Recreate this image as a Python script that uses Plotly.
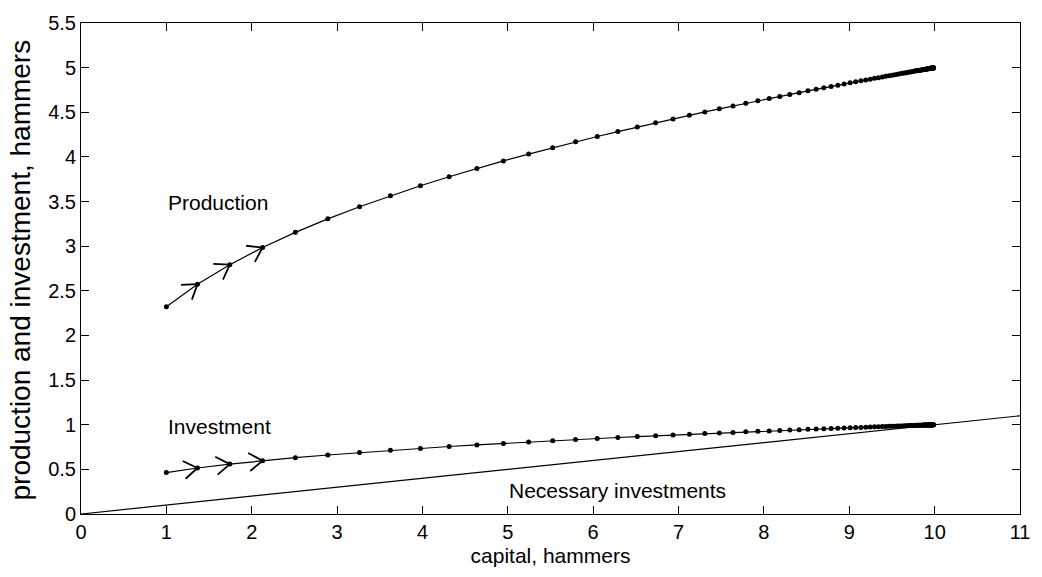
import math
import plotly.graph_objects as go

# capital stock per period (hammers)
capital = [
    1.000, 1.364, 1.743, 2.127, 2.511, 2.891, 3.263, 3.625, 3.976, 4.313,
    4.638, 4.948, 5.244, 5.526, 5.794, 6.048, 6.289, 6.517, 6.732, 6.936,
    7.127, 7.308, 7.478, 7.638, 7.788, 7.929, 8.062, 8.186, 8.303, 8.413,
    8.516, 8.612, 8.702, 8.787, 8.866, 8.940, 9.010, 9.075, 9.136, 9.193,
    9.246, 9.296, 9.342, 9.386, 9.426, 9.464, 9.500, 9.533, 9.564, 9.593,
    9.620, 9.645, 9.669, 9.691, 9.711, 9.730, 9.748, 9.765, 9.781, 9.795,
    9.809, 9.822, 9.834, 9.845, 9.855, 9.865, 9.874, 9.882, 9.890, 9.897,
    9.904, 9.911, 9.917, 9.922, 9.927, 9.932, 9.937, 9.941, 9.945, 9.949,
    9.952, 9.955, 9.958, 9.961, 9.964, 9.966, 9.968, 9.970, 9.972, 9.974,
    9.976, 9.978, 9.979, 9.980, 9.982, 9.983, 9.984, 9.985, 9.986, 9.987,
]

production = [
    2.321, 2.574, 2.793, 2.985, 3.155, 3.306, 3.442, 3.565, 3.677, 3.778,
    3.870, 3.955, 4.032, 4.103, 4.169, 4.229, 4.284, 4.335, 4.382, 4.426,
    4.467, 4.504, 4.539, 4.571, 4.600, 4.628, 4.654, 4.678, 4.700, 4.720,
    4.740, 4.757, 4.774, 4.789, 4.804, 4.817, 4.830, 4.841, 4.852, 4.862,
    4.871, 4.880, 4.888, 4.896, 4.903, 4.909, 4.916, 4.921, 4.927, 4.931,
    4.936, 4.940, 4.944, 4.948, 4.952, 4.955, 4.958, 4.961, 4.964, 4.966,
    4.968, 4.970, 4.972, 4.974, 4.976, 4.978, 4.979, 4.980, 4.982, 4.983,
    4.984, 4.985, 4.986, 4.987, 4.988, 4.989, 4.990, 4.991, 4.991, 4.992,
    4.992, 4.993, 4.993, 4.994, 4.994, 4.995, 4.995, 4.995, 4.996, 4.996,
    4.996, 4.996, 4.997, 4.997, 4.997, 4.997, 4.997, 4.998, 4.998, 4.998,
]

investment = [
    0.464, 0.515, 0.559, 0.597, 0.631, 0.661, 0.688, 0.713, 0.735, 0.756,
    0.774, 0.791, 0.806, 0.821, 0.834, 0.846, 0.857, 0.867, 0.876, 0.885,
    0.893, 0.901, 0.908, 0.914, 0.920, 0.926, 0.931, 0.936, 0.940, 0.944,
    0.948, 0.951, 0.955, 0.958, 0.961, 0.963, 0.966, 0.968, 0.970, 0.972,
    0.974, 0.976, 0.978, 0.979, 0.981, 0.982, 0.983, 0.984, 0.985, 0.986,
    0.987, 0.988, 0.989, 0.990, 0.990, 0.991, 0.992, 0.992, 0.993, 0.993,
    0.994, 0.994, 0.994, 0.995, 0.995, 0.996, 0.996, 0.996, 0.996, 0.997,
    0.997, 0.997, 0.997, 0.997, 0.998, 0.998, 0.998, 0.998, 0.998, 0.998,
    0.998, 0.999, 0.999, 0.999, 0.999, 0.999, 0.999, 0.999, 0.999, 0.999,
    0.999, 0.999, 0.999, 0.999, 0.999, 0.999, 0.999, 0.999, 0.999, 0.999,
]

# necessary investments line (depreciation)
necessary_x = [0, 11]
necessary_y = [0, 1.1]

n_arrows = 3

x_ticks = list(range(0, 12))
y_ticks = [0, 0.5, 1, 1.5, 2, 2.5, 3, 3.5, 4, 4.5, 5, 5.5]
y_tick_text = ["0", "0.5", "1", "1.5", "2", "2.5", "3", "3.5", "4", "4.5", "5", "5.5"]

FONT = "Arial, Liberation Sans, Helvetica, sans-serif"

W, H = 1042, 577
ML, MR, MT, MB = 81, 13, 14, 63
X_RANGE = [0, 11]
Y_RANGE = [0, 5.5]
ARM_LEN = 18
ARM_ANGLE = math.radians(34)

sx = (W - ML - MR) / (X_RANGE[1] - X_RANGE[0])
sy = (H - MT - MB) / (Y_RANGE[1] - Y_RANGE[0])

fig = go.Figure()

fig.add_trace(go.Scatter(x=necessary_x, y=necessary_y, mode="lines",
                         line=dict(color="black", width=1.2), showlegend=False,
                         hoverinfo="skip"))
fig.add_trace(go.Scatter(x=capital, y=production, mode="lines+markers",
                         line=dict(color="black", width=1.2),
                         marker=dict(color="black", size=5), showlegend=False))
fig.add_trace(go.Scatter(x=capital, y=investment, mode="lines+markers",
                         line=dict(color="black", width=1.2),
                         marker=dict(color="black", size=5), showlegend=False))

annotations = []
for series in (production, investment):
    for i in range(n_arrows):
        # direction from arrow tip back toward previous point, in screen pixels
        dx = (capital[i] - capital[i + 1]) * sx
        dy = -(series[i] - series[i + 1]) * sy
        ang = math.atan2(dy, dx)
        for sgn in (-1, 1):
            a = ang + sgn * ARM_ANGLE
            annotations.append(dict(
                x=capital[i + 1], y=series[i + 1], xref="x", yref="y",
                ax=ARM_LEN * math.cos(a), ay=ARM_LEN * math.sin(a),
                text="", showarrow=True, arrowhead=0, arrowwidth=1.8,
                arrowcolor="black", standoff=0,
            ))

annotations += [
    dict(x=0.99, y=3.49, xref="x", yref="y", text="Production", showarrow=False,
         xanchor="left", yanchor="middle", font=dict(size=21, color="black", family=FONT)),
    dict(x=0.99, y=0.98, xref="x", yref="y", text="Investment", showarrow=False,
         xanchor="left", yanchor="middle", font=dict(size=21, color="black", family=FONT)),
    dict(x=6.28, y=0.264, xref="x", yref="y", text="Necessary investments", showarrow=False,
         xanchor="center", yanchor="middle", font=dict(size=21, color="black", family=FONT)),
    dict(x=0, y=0.5, xref="paper", yref="paper", xshift=-61, yshift=-2,
         text="production and investment, hammers", showarrow=False, textangle=-90,
         xanchor="center", yanchor="middle", font=dict(size=28, color="black", family=FONT)),
]

fig.update_layout(
    width=W, height=H,
    margin=dict(l=ML, r=MR, t=MT, b=MB),
    paper_bgcolor="white", plot_bgcolor="white",
    font=dict(family=FONT, size=20, color="black"),
    annotations=annotations,
    xaxis=dict(range=X_RANGE, tickvals=x_ticks, ticks="inside", ticklen=8,
               tickcolor="black", showline=True, linecolor="black", linewidth=1,
               mirror="ticks", showgrid=False, zeroline=False,
               title=dict(text="capital, hammers", standoff=6,
                          font=dict(size=21))),
    yaxis=dict(range=Y_RANGE, tickvals=y_ticks, ticktext=y_tick_text,
               ticks="inside", ticklen=8,
               tickcolor="black", showline=True, linecolor="black", linewidth=1,
               mirror="ticks", showgrid=False, zeroline=False),
)

fig.write_html("out.html")
